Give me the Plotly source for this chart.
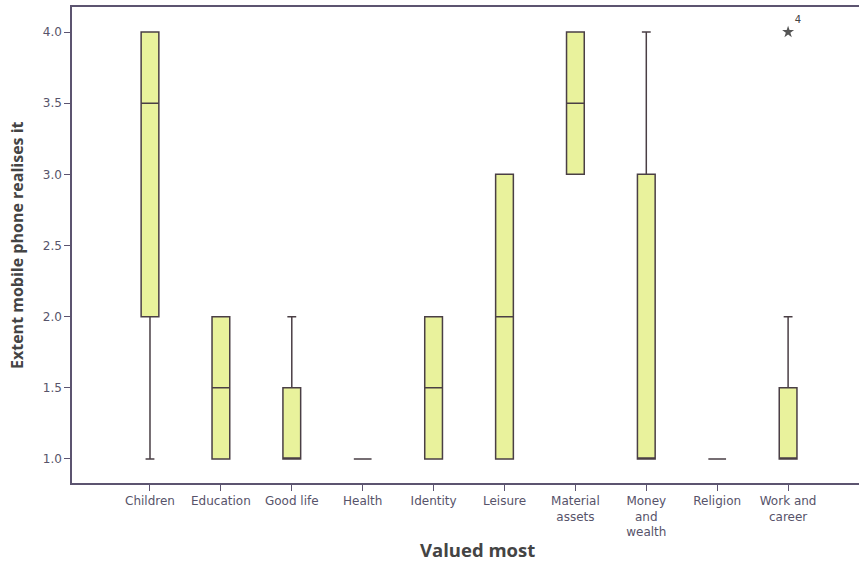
import plotly.graph_objects as go

# Categories and box statistics (extent mobile phone realises each value)
categories = ["Children", "Education", "Good life", "Health", "Identity",
              "Leisure", "Material assets", "Money and wealth", "Religion",
              "Work and career"]
tick_text = ["Children", "Education", "Good life", "Health", "Identity",
             "Leisure", "Material<br>assets", "Money<br>and<br>wealth",
             "Religion", "Work and<br>career"]
q1 = [2.0, 1.0, 1.0, 1.0, 1.0, 1.0, 3.0, 1.0, 1.0, 1.0]
median = [3.5, 1.5, 1.0, 1.0, 1.5, 2.0, 3.5, 1.0, 1.0, 1.0]
q3 = [4.0, 2.0, 1.5, 1.0, 2.0, 3.0, 4.0, 3.0, 1.0, 1.5]
lower_fence = [1.0, 1.0, 1.0, 1.0, 1.0, 1.0, 3.0, 1.0, 1.0, 1.0]
upper_fence = [4.0, 2.0, 2.0, 1.0, 2.0, 3.0, 4.0, 4.0, 1.0, 2.0]
y_ticks = [1.0, 1.5, 2.0, 2.5, 3.0, 3.5, 4.0]

# Extreme value and its case label
outlier_cat = ["Work and career"]
outlier_val = [4.0]
outlier_label = ["4"]

box_fill = "#e9f29c"
box_line = "#4a3f45"
axis_color = "#5c5470"
tick_color = "#57536a"
title_color = "#444444"

fig = go.Figure()
fig.add_trace(go.Box(
    x=categories, q1=q1, median=median, q3=q3,
    lowerfence=lower_fence, upperfence=upper_fence,
    fillcolor=box_fill, line=dict(color=box_line, width=1.5),
    width=0.25, whiskerwidth=0.5, boxpoints=False,
    showlegend=False, hoverinfo="skip",
))
fig.add_trace(go.Scatter(
    x=outlier_cat, y=outlier_val, mode="markers+text",
    marker=dict(symbol="star", size=9, color="#555555"),
    text=outlier_label, textposition="top right",
    textfont=dict(family="DejaVu Sans", size=10, color="#444444"),
    showlegend=False, hoverinfo="skip", cliponaxis=False,
))

fig.update_layout(
    width=859, height=563,
    margin=dict(l=72, r=0, t=7, b=80, autoexpand=False),
    paper_bgcolor="white", plot_bgcolor="white",
    font=dict(family="DejaVu Sans", size=12, color=tick_color),
    annotations=[
        dict(text="<b>Valued most</b>", xref="paper", yref="paper",
             x=0.515, y=-0.139, xanchor="center", yanchor="middle",
             showarrow=False,
             font=dict(family="Open Sans", size=18.5, color=title_color)),
        dict(text="<b>Extent mobile phone realises it</b>", xref="paper",
             yref="paper", x=-0.0699, y=0.5, xanchor="center",
             yanchor="middle", textangle=-90, showarrow=False,
             font=dict(family="Open Sans", size=16, color=title_color)),
    ],
)
fig.update_xaxes(
    type="category", categoryorder="array", categoryarray=categories,
    tickmode="array", tickvals=categories, ticktext=tick_text,
    range=[-1.1, 10.0], automargin=False,
    showline=True, linecolor=axis_color, linewidth=1.5, mirror=True,
    ticks="outside", ticklen=6, tickcolor=axis_color,
    showgrid=False, zeroline=False,
    tickfont=dict(family="DejaVu Sans", size=12, color=tick_color),
)
fig.update_yaxes(
    range=[0.831, 4.176], automargin=False,
    tickvals=y_ticks, ticktext=[f"{v:.1f}" for v in y_ticks],
    showline=True, linecolor=axis_color, linewidth=1.5,
    ticks="outside", ticklen=6, tickcolor=axis_color,
    showgrid=False, zeroline=False,
    tickfont=dict(family="DejaVu Sans", size=12, color=tick_color),
)

fig.write_html("out.html")
